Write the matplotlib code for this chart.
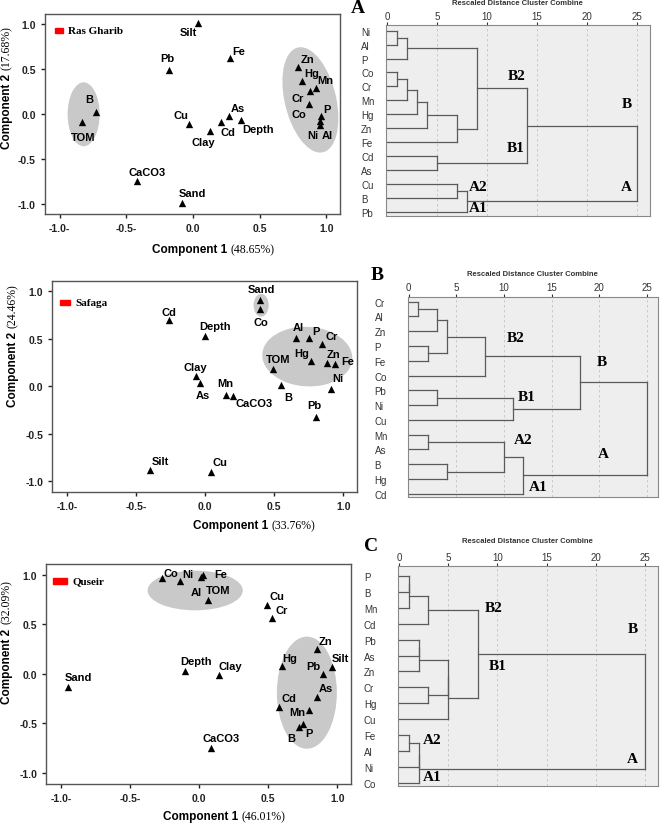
import matplotlib
matplotlib.use("Agg")
import matplotlib.pyplot as plt
from matplotlib.patches import Ellipse, Rectangle

plt.rcParams["font.family"] = ["Liberation Sans", "DejaVu Sans"]

# ---- PCA loadings ----
rg_names = ["Silt", "Pb", "Fe", "Zn", "Hg", "Mn", "Cr", "Co", "P", "Ni", "Al", "B", "TOM",
            "Cu", "Clay", "Cd", "As", "Depth", "CaCO3", "Sand"]
rg_pc1 = [0.04, -0.18, 0.28, 0.79, 0.82, 0.92, 0.875, 0.87, 0.96, 0.955, 0.95, -0.73, -0.83,
          -0.03, 0.13, 0.21, 0.27, 0.36, -0.42, -0.08]
rg_pc2 = [1.01, 0.49, 0.62, 0.53, 0.37, 0.29, 0.26, 0.11, -0.02, -0.07, -0.12, 0.03, -0.08,
          -0.11, -0.19, -0.08, -0.02, -0.06, -0.74, -0.99]

sf_names = ["Sand", "Co", "Cd", "Depth", "Al", "P", "Cr", "Hg", "Zn", "Fe", "TOM", "Clay",
            "As", "B", "Ni", "Mn", "CaCO3", "Pb", "Silt", "Cu"]
sf_pc1 = [0.40, 0.40, -0.26, 0.0, 0.66, 0.75, 0.85, 0.77, 0.88, 0.94, 0.49, -0.065,
          -0.04, 0.55, 0.91, 0.15, 0.20, 0.80, -0.40, 0.04]
sf_pc2 = [0.90, 0.81, 0.70, 0.53, 0.51, 0.51, 0.44, 0.26, 0.24, 0.235, 0.175, 0.11,
          0.03, 0.01, -0.03, -0.09, -0.10, -0.33, -0.88, -0.90]

qs_names = ["Co", "Ni", "Fe", "Al", "TOM", "Cu", "Cr", "Zn", "Silt", "Hg", "Pb", "As", "Cd",
            "Mn", "P", "B", "Depth", "Clay", "Sand", "CaCO3"]
qs_pc1 = [-0.27, -0.14, 0.03, 0.015, 0.06, 0.49, 0.53, 0.85, 0.96, 0.60, 0.90, 0.855, 0.58,
          0.795, 0.75, 0.72, -0.105, 0.145, -0.95, 0.085]
qs_pc2 = [0.97, 0.94, 1.0, 0.98, 0.74, 0.69, 0.56, 0.25, 0.07, 0.08, 0.0, -0.23, -0.33,
          -0.36, -0.51, -0.54, 0.03, -0.015, -0.13, -0.75]

# label offsets in pixels (dx, dy up)
rg_off = {"Silt": (-10, -9), "Pb": (-2, 12), "Fe": (8, 7), "Zn": (9, 8), "Hg": (9, 8),
          "Mn": (10, 8), "Cr": (-12, -7), "Co": (-10, -10), "P": (6, 7), "Ni": (-8, -14),
          "Al": (8, -10), "B": (-6, 13), "TOM": (1, -15), "Cu": (-8, 9), "Clay": (-7, -11),
          "Cd": (7, -10), "As": (9, 8), "Depth": (17, -9), "CaCO3": (10, 9), "Sand": (10, 10)}
sf_off = {"Sand": (1, 11), "Co": (0, -13), "Cd": (0, 8), "Depth": (10, 10), "Al": (2, 11),
          "P": (7, 7), "Cr": (9, 8), "Hg": (-10, 8), "Zn": (7, 9), "Fe": (13, 3),
          "TOM": (5, 10), "Clay": (-1, 9), "As": (3, -12), "B": (7, -12), "Ni": (7, 11),
          "Mn": (-1, 12), "CaCO3": (21, -7), "Pb": (-1, 12), "Silt": (10, 9), "Cu": (9, 10)}
qs_off = {"Co": (9, 5), "Ni": (8, 7), "Fe": (17, 1), "Al": (-5, -15), "TOM": (11, 10),
          "Cu": (10, 9), "Cr": (9, 8), "Zn": (9, 8), "Silt": (9, 9), "Hg": (8, 8),
          "Pb": (-10, 8), "As": (9, 9), "Cd": (10, 9), "Mn": (-12, -2), "P": (6, -9),
          "B": (-7, -11), "Depth": (11, 10), "Clay": (11, 9), "Sand": (10, 10), "CaCO3": (10, 10)}

# ---- cluster trees (leaf order, merges: left, right, rescaled distance) ----
rg_leaves = ["Ni", "Al", "P", "Co", "Cr", "Mn", "Hg", "Zn", "Fe", "Cd", "As", "Cu", "B", "Pb"]
rg_links = [(0, 1, 1), (14, 2, 2), (3, 4, 1), (16, 5, 2), (17, 6, 3), (18, 7, 4), (19, 8, 7),
            (15, 20, 9), (9, 10, 5), (21, 22, 14), (11, 12, 7), (24, 13, 8), (23, 25, 25)]
sf_leaves = ["Cr", "Al", "Zn", "P", "Fe", "Co", "Pb", "Ni", "Cu", "Mn", "As", "B", "Hg", "Cd"]
sf_links = [(0, 1, 1), (14, 2, 3), (3, 4, 2), (15, 16, 4), (17, 5, 8), (6, 7, 3), (19, 8, 11),
            (18, 20, 18), (9, 10, 2), (11, 12, 4), (22, 23, 10), (24, 13, 12), (21, 25, 25)]
qs_leaves = ["P", "B", "Mn", "Cd", "Pb", "As", "Zn", "Cr", "Hg", "Cu", "Fe", "Al", "Ni", "Co"]
qs_links = [(0, 1, 1), (14, 2, 1), (15, 3, 3), (4, 5, 2), (17, 6, 2), (7, 8, 3), (18, 19, 5),
            (20, 9, 5), (16, 21, 8), (10, 11, 1), (23, 12, 2), (24, 13, 2), (22, 25, 25)]

fig = plt.figure(figsize=(6.61, 8.28), dpi=100)


def pca_panel(rect, names, pc1, pc2, offs, site, red_box, p1, p2, ysplit, xsplit, xlab_y, ells):
    ax = fig.add_axes(rect)
    for (cx, cy, w, h, ang) in ells:
        ax.add_patch(Ellipse((cx, cy), w, h, angle=ang, facecolor="#c9c9c9",
                             edgecolor="none", zorder=1))
    ax.scatter(pc1, pc2, marker="^", s=28, color="black", zorder=3, linewidths=0)
    for n, x, y in zip(names, pc1, pc2):
        dx, dy = offs[n]
        ax.annotate(n, (x, y), xytext=(dx, dy), textcoords="offset pixels", ha="center",
                    va="center", fontsize=8, fontweight="bold", zorder=4)
    ax.set_xlim(-1.11, 1.1)
    ax.set_ylim(-1.11, 1.11)
    ax.set_xticks([-1, -0.5, 0, 0.5, 1])
    ax.set_xticklabels(["-1.0-", "-0.5-", "0.0", "0.5", "1.0"])
    ax.set_yticks([-1, -0.5, 0, 0.5, 1])
    ax.set_yticklabels(["-1.0", "-0.5", "0.0", "0.5", "1.0"])
    ax.tick_params(direction="out", length=3, width=1, labelsize=7.5, colors="#222222")
    for t in ax.get_xticklabels() + ax.get_yticklabels():
        t.set_fontweight("bold")
    for s in ax.spines.values():
        s.set_color("#555555")
        s.set_linewidth(1)
    rx, ry, rw, rh = red_box
    ax.add_patch(Rectangle((rx, ry), rw, rh, transform=ax.transAxes, color="red", zorder=5))
    ax.text(rx + rw + 0.017, ry + rh / 2, site, transform=ax.transAxes, va="center",
            fontsize=8, fontweight="bold", family="Liberation Serif")
    ax.text(-0.129, ysplit - 0.01, "Component 2", transform=ax.transAxes, rotation=90,
            ha="center", va="top", fontsize=8.5, fontweight="bold")
    ax.text(-0.129, ysplit + 0.01, p2, transform=ax.transAxes, rotation=90,
            ha="center", va="bottom", fontsize=8.5, family="Liberation Serif")
    ax.text(xsplit, xlab_y, "Component 1", transform=ax.transAxes, ha="right",
            va="center", fontsize=8.5, fontweight="bold")
    ax.text(xsplit + 0.01, xlab_y, p1, transform=ax.transAxes, ha="left",
            va="center", fontsize=8.5, family="Liberation Serif")
    return ax


def dendro(rect, leaves, links, letter, lpos, tags, xmax, ylim, pad):
    ax = fig.add_axes(rect)
    ax.set_facecolor("#eeeeee")
    n = len(leaves)
    ys = list(range(n))
    xs = [0] * n
    for a, b, h in links:
        for c in (a, b):
            ax.plot([xs[c], h], [ys[c], ys[c]], color="#5a5a5a", lw=0.9, zorder=3)
        ax.plot([h, h], [ys[a], ys[b]], color="#5a5a5a", lw=0.9, zorder=3)
        ys.append((ys[a] + ys[b]) / 2)
        xs.append(h)
    ax.set_xlim(-0.1, xmax)
    ax.set_ylim(ylim)
    ax.set_yticks(range(n))
    ax.set_yticklabels(leaves, ha="left")
    ax.tick_params(axis="y", length=0, pad=pad, labelsize=7, colors="#333333")
    ax.xaxis.tick_top()
    ax.set_xticks([0, 5, 10, 15, 20, 25])
    ax.tick_params(axis="x", length=2, pad=1, labelsize=7, colors="#333333")
    for v in [5, 10, 15, 20, 25]:
        ax.axvline(v, color="#c4c4c4", lw=0.6, ls=(0, (3, 3)), zorder=1)
    for s in ax.spines.values():
        s.set_color("#888888")
        s.set_linewidth(0.8)
    ax.text(0.5, 1.115, "Rescaled Distance Cluster Combine", transform=ax.transAxes,
            ha="center", va="center", fontsize=5.5, fontweight="bold", color="#333333")
    ax.text(lpos[0], lpos[1], letter, transform=ax.transAxes, ha="center", va="center",
            fontsize=14, fontweight="bold", family="Liberation Serif")
    for t, x, y in tags:
        ax.text(x, y, t, ha="center", va="center", fontsize=11, fontweight="bold",
                family="Liberation Serif", zorder=4)
    return ax


pca_panel([0.068, 0.740, 0.446, 0.2415], rg_names, rg_pc1, rg_pc2, rg_off, "Ras Gharib",
          (0.034, 0.905, 0.027, 0.025), "(48.65%)", "(17.68%)", 0.715, 0.62, -0.175,
          [(-0.82, 0.0, 0.24, 0.71, 0), (0.88, 0.16, 0.39, 1.18, 8)])
pca_panel([0.079, 0.405, 0.461, 0.255], sf_names, sf_pc1, sf_pc2, sf_off, "Safaga",
          (0.026, 0.886, 0.033, 0.024), "(33.76%)", "(24.46%)", 0.77, 0.71, -0.16,
          [(0.405, 0.85, 0.11, 0.24, 0), (0.74, 0.31, 0.66, 0.62, -25)])
pca_panel([0.070, 0.052, 0.461, 0.266], qs_names, qs_pc1, qs_pc2, qs_off, "Quseir",
          (0.023, 0.909, 0.046, 0.027), "(46.01%)", "(32.09%)", 0.72, 0.63, -0.145,
          [(-0.03, 0.84, 0.69, 0.40, 0), (0.78, -0.19, 0.435, 1.13, 0)])

dendro([0.584, 0.738, 0.399, 0.231], rg_leaves, rg_links, "A", (-0.106, 1.089),
       [("B2", 13.0, 3.2), ("B1", 12.9, 8.35), ("B", 24.0, 5.25), ("A", 24.0, 11.2),
        ("A2", 9.1, 11.15), ("A1", 9.1, 12.7)], 26.3, (13.29, -0.43), 18)
dendro([0.617, 0.399, 0.378, 0.2415], sf_leaves, sf_links, "B", (-0.124, 1.11),
       [("B2", 11.2, 2.4), ("B", 20.3, 4.06), ("B1", 12.4, 6.4), ("A2", 12.0, 9.3),
        ("A", 20.4, 10.3), ("A1", 13.6, 12.5)], 26.15, (13.2, -0.34), 24)
dendro([0.602, 0.0495, 0.393, 0.2657], qs_leaves, qs_links, "C", (-0.104, 1.095),
       [("B2", 9.6, 2.0), ("B", 23.8, 3.3), ("B1", 10.0, 5.6), ("A2", 3.35, 10.25),
        ("A1", 3.35, 12.6), ("A", 23.7, 11.45)], 26.3, (13.2, -0.63), 24.5)

fig.savefig("out.png", dpi=100)
